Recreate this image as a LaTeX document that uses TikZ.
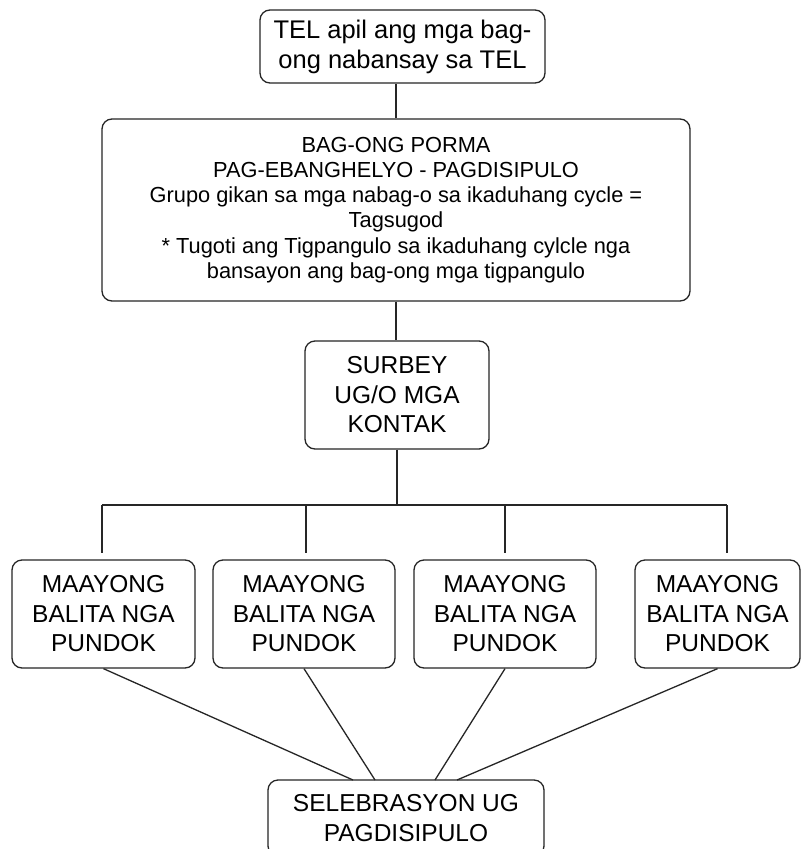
\documentclass[tikz,border=0pt]{standalone}
\usepackage{fontspec}
\setmainfont{Liberation Sans}
\begin{document}
\begin{tikzpicture}[x=1pt,y=1pt,
  box/.style={draw=black!85, line width=1.3pt, rounded corners=10pt, align=center,
    inner sep=0pt, font=\fontsize{24.5}{29.5}\selectfont},
  bigbox/.style={box, font=\fontsize{21.8}{25.2}\selectfont},
  topbox/.style={box, font=\fontsize{25.5}{30}\selectfont},
  link/.style={draw=black!85, line width=1.3pt}]
\useasboundingbox (0,0) rectangle (809,-849);
\clip (0,0) rectangle (809,-849);
\fill[white] (0,0) rectangle (809,-849);

\node[topbox, minimum width=285pt, minimum height=73pt] (top) at (402.5,-46.5)
  {TEL apil ang mga bag-\\ong nabansay sa TEL};
\node[bigbox, minimum width=588pt, minimum height=182pt] (sec) at (396,-210)
  {BAG-ONG PORMA\\PAG-EBANGHELYO - PAGDISIPULO\\Grupo gikan sa mga nabag-o sa ikaduhang cycle =\\Tagsugod\\* Tugoti ang Tigpangulo sa ikaduhang cylcle nga\\bansayon ang bag-ong mga tigpangulo};
\node[box, minimum width=184pt, minimum height=108pt] (sur) at (397,-395)
  {SURBEY\\UG/O MGA\\KONTAK};

\node[box, minimum width=183pt, minimum height=108pt] (b1) at (103.5,-614)
  {MAAYONG\\BALITA NGA\\PUNDOK};
\node[box, minimum width=182pt, minimum height=108pt] (b2) at (304,-614)
  {MAAYONG\\BALITA NGA\\PUNDOK};
\node[box, minimum width=182pt, minimum height=108pt] (b3) at (505,-614)
  {MAAYONG\\BALITA NGA\\PUNDOK};
\node[box, minimum width=165pt, minimum height=108pt] (b4) at (717.5,-614)
  {MAAYONG\\BALITA NGA\\PUNDOK};

\node[box, minimum width=276pt, minimum height=76pt] (sel) at (406,-818)
  {SELEBRASYON UG\\PAGDISIPULO};

% vertical chain
\draw[link] (sec.north) -- (sec.north |- top.south);
\draw[link] (sec.south) -- (sec.south |- sur.north);

% bus
\coordinate (bs) at (397,-505);
\coordinate (d1) at (102,-505);
\coordinate (d2) at (306,-505);
\coordinate (d3) at (505,-505);
\coordinate (d4) at (727,-505);
\draw[link] (sur.south) -- (bs);
\draw[link] (d1) -- (d4);
\draw[link, shorten >=6pt] (d1) -- (d1 |- b1.north);
\draw[link, shorten >=6pt] (d2) -- (d2 |- b2.north);
\draw[link, shorten >=6pt] (d3) -- (d3 |- b3.north);
\draw[link, shorten >=6pt] (d4) -- (d4 |- b4.north);

% to celebration
\coordinate (e1) at (353,-780);
\coordinate (e2) at (375,-780);
\coordinate (e3) at (435,-780);
\coordinate (e4) at (457,-780);
\draw[link] (b1.south) -- (e1);
\draw[link] (b2.south) -- (e2);
\draw[link] (b3.south) -- (e3);
\draw[link] (b4.south) -- (e4);
\end{tikzpicture}
\end{document}
